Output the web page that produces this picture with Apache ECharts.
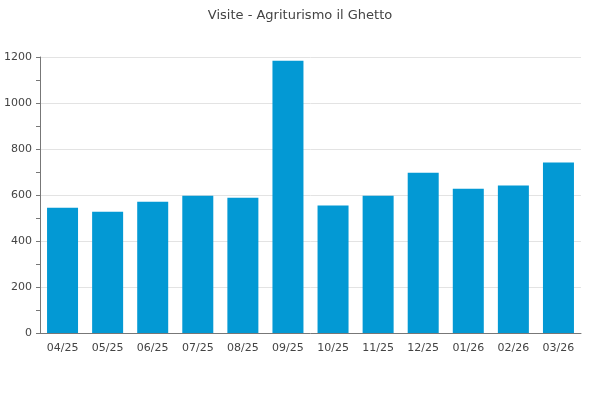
<!DOCTYPE html>
<html><head><meta charset="utf-8">
<script src="https://cdn.jsdelivr.net/npm/echarts@6/dist/echarts.min.js"></script>
<style>html,body{margin:0;padding:0;background:#fff}#c{width:600px;height:400px}</style>
</head><body><div id="c"></div>
<script>
var title = "Visite - Agriturismo il Ghetto";
var categories = ["04/25","05/25","06/25","07/25","08/25","09/25","10/25","11/25","12/25","01/26","02/26","03/26"];
var visits = [545, 527, 571, 597, 588, 1184, 554, 597, 697, 627, 641, 741];
var yTicks = [0, 200, 400, 600, 800, 1000, 1200];

var chart = echarts.init(document.getElementById('c'), null, {renderer:'canvas'});
chart.setOption({
  animation: false,
  textStyle: {fontFamily: 'DejaVu Sans'},
  title: {
    text: title, left: 'center', top: 4,
    textStyle: {fontFamily: 'DejaVu Sans', fontSize: 13, fontWeight: 'normal', color: '#444'}
  },
  grid: {left: 40, right: 19, top: 57, bottom: 67, containLabel: false},
  xAxis: {
    type: 'category', data: categories,
    axisLine: {lineStyle: {color: '#777'}},
    axisTick: {show: false},
    axisLabel: {fontFamily: 'DejaVu Sans', fontSize: 11, color: '#444', margin: 10}
  },
  yAxis: {
    type: 'value', min: yTicks[0], max: yTicks[yTicks.length-1], interval: 200,
    axisLine: {show: true, lineStyle: {color: '#777'}},
    axisTick: {show: true, length: 4, lineStyle: {color: '#777'}},
    minorTick: {show: true, splitNumber: 2, length: 4, lineStyle: {color: '#777'}},
    splitLine: {lineStyle: {color: '#e3e3e3'}},
    axisLabel: {fontFamily: 'DejaVu Sans', fontSize: 11, color: '#444', margin: 8,
      formatter: function (v) { return String(v); }}
  },
  series: [{
    type: 'bar', data: visits, barWidth: 31,
    itemStyle: {color: '#0399d4'}
  }]
});
</script></body></html>
